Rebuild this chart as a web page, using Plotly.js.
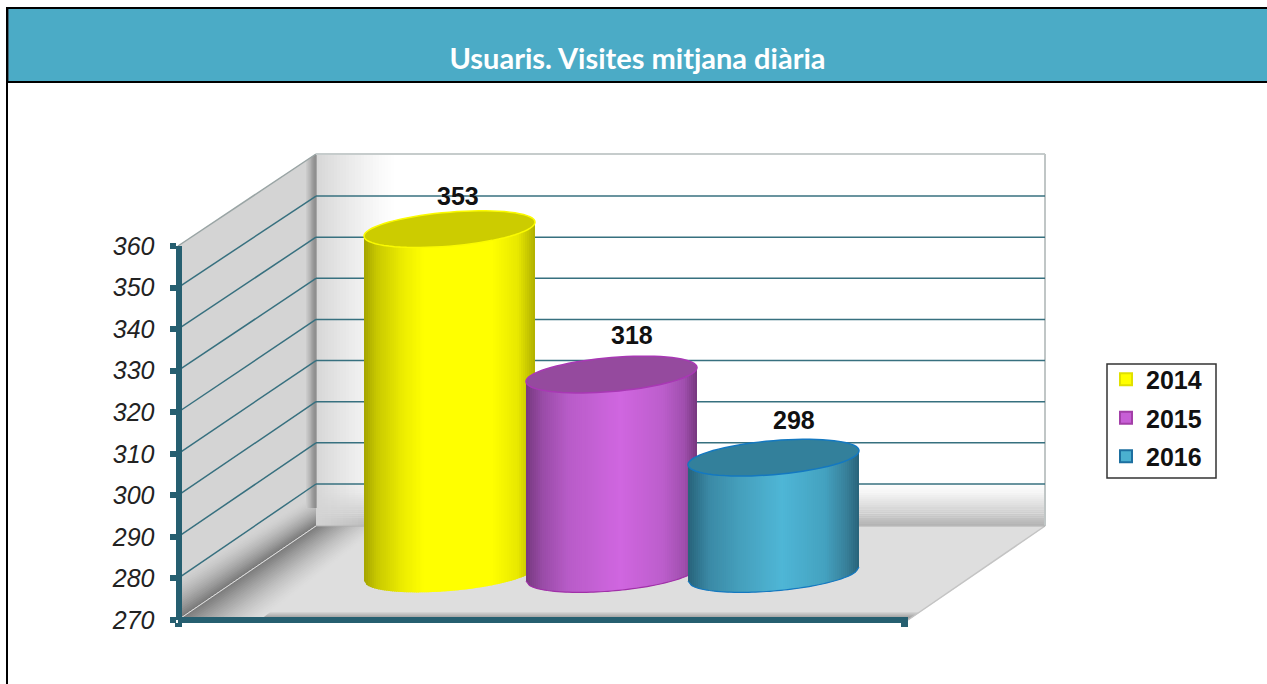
<!DOCTYPE html>
<html>
<head>
<meta charset="utf-8">
<script src="https://cdn.plot.ly/plotly-3.0.1.min.js"></script>
<style>html,body{margin:0;padding:0;background:#fff;overflow:hidden}#c{width:1267px;height:684px}</style>
</head>
<body>
<div id="c"></div>
<script>
// ---- chart data ----
const categories = ['2014', '2015', '2016'];
const values = [353, 318, 298];
const axisTicks = [270, 280, 290, 300, 310, 320, 330, 340, 350, 360];
const gridValues = [280, 290, 300, 310, 320, 330, 340, 350];
const chartTitle = 'Usuaris. Visites mitjana diària';

// ---- styles ----
const seriesColors = ['#ffff00', '#c75fd6', '#4bb0d0'];
const swatchLines = ['#e0e000', '#a33fa8', '#1d6fa0'];
const lidColors = ['#cccc00', '#954a9e', '#33809b'];
const lidLines = ['#fbfb00', '#a838b4', '#1478c0'];
const baseLines = [null, '#a030a8', '#1478c0'];
const sideStops = [
  [[-1, '#a4a400'], [-0.85, '#c8c800'], [-0.55, '#ecec00'], [-0.3, '#ffff00'], [0.5, '#ffff00'], [0.8, '#e8e800'], [1, '#b0b000']],
  [[-1, '#77397f'], [-0.8, '#9a4ca8'], [-0.5, '#b85cc8'], [0.1, '#d066e0'], [0.6, '#bc5ecc'], [0.85, '#a04fae'], [1, '#76387e']],
  [[-1, '#28637a'], [-0.75, '#3b8aa6'], [-0.4, '#459fbc'], [0.1, '#4fb6d6'], [0.6, '#44a2c0'], [0.85, '#38809a'], [1, '#28637a']]
];
const labelDx = [8, 20, 20];
const labelDy = [33, 40, 38];
const axisColor = '#265f70';
const gridColor = '#37707f';

// ---- layout geometry (page pixels) ----
const L = 170, R = 1052, T = 148, B = 630;
const PXU = 4.155, PITCH = 162, X0 = 449.5, DEPTH = 46;
const A = 85.5, TILT = 7, MINOR = 17;
const X = p => (p - X0) / PITCH;
const Y = p => 270 + (620 - p) / PXU;
const paperX = p => (p - L) / (R - L);
const paperY = p => (B - p) / (B - T);

const shapes = [];
function pathOf(pts) { return 'M' + pts.map(q => X(q[0]) + ',' + Y(q[1])).join('L') + 'Z'; }
function poly(pts, fill, line, w) {
  shapes.push({type: 'path', xref: 'x', yref: 'y', layer: 'below', path: pathOf(pts), fillcolor: fill,
    line: {color: line || fill, width: w === undefined ? 0.6 : w}});
}
function seg(x0, y0, x1, y1, color, w) {
  shapes.push({type: 'line', xref: 'x', yref: 'y', layer: 'below', x0: X(x0), y0: Y(y0), x1: X(x1), y1: Y(y1), line: {color: color, width: w}});
}
function pageRect(x0, y0, x1, y1, fill) {
  shapes.push({type: 'rect', xref: 'paper', yref: 'paper', layer: 'below', x0: paperX(x0), x1: paperX(x1), y0: paperY(y0), y1: paperY(y1), fillcolor: fill, line: {width: 0}});
}
function mix(c1, c2, t) {
  const h = c => [1, 3, 5].map(i => parseInt(c.substr(i, 2), 16));
  const a = h(c1), b = h(c2);
  return 'rgb(' + a.map((v, i) => Math.round(v + (b[i] - v) * t)).join(',') + ')';
}
function stopColor(stops, u) {
  for (let i = 0; i < stops.length - 1; i++) {
    if (u <= stops[i + 1][0]) return mix(stops[i][1], stops[i + 1][1], (u - stops[i][0]) / (stops[i + 1][0] - stops[i][0]));
  }
  return stops[stops.length - 1][1];
}

// page frame and header band
pageRect(6, 7, 1267, 684, '#ffffff');
pageRect(8, 9, 1267, 81, '#4babc6');
pageRect(8, 9, 9, 81, '#3b6676');
pageRect(6, 7, 1267, 9, '#000000');
pageRect(6, 7, 8, 684, '#000000');
pageRect(8, 81, 1267, 83, '#000000');

// legend box
shapes.push({type: 'rect', xref: 'paper', yref: 'paper', layer: 'below', x0: paperX(1107), x1: paperX(1216), y0: paperY(364), y1: paperY(478),
  fillcolor: '#ffffff', line: {color: '#333333', width: 1.5}});

// back wall
poly([[316, 154], [1045, 154], [1045, 526], [316, 526]], '#ffffff');
for (let i = 0; i < 20; i++) {
  const y0 = 484 + i * 2.1, c = mix('#ffffff', '#b4b4b4', Math.pow((i + 1) / 20, 1.3));
  poly([[316, y0], [1045, y0], [1045, y0 + 2.3], [316, y0 + 2.3]], c, c, 0);
}
for (let i = 0; i < 26; i++) {
  const x0 = 316 + i * 3, a = 0.92 * Math.pow(1 - i / 26, 1.2);
  const c = 'rgba(212,212,212,' + a.toFixed(3) + ')';
  poly([[x0, 154], [x0 + 3, 154], [x0 + 3, 526], [x0, 526]], c, 'rgba(0,0,0,0)', 0);
}
// left wall
poly([[178, 246], [316, 154], [316, 526], [178, 620]], '#d4d4d4');
for (let i = 0; i < 20; i++) {
  const h = 44 - i * 2.2, c = mix('#d4d4d4', '#7a7a7a', Math.pow((i + 1) / 20, 1.5));
  poly([[178, 620 - h], [316, 526 - h * 0.7], [316, 526], [178, 620]], c, c, 0);
}
for (let i = 0; i < 9; i++) {
  const x0 = 306 + i * 1.15, t = (x0 - 178) * 92 / 138, c = mix('#d4d4d4', '#868686', (i + 1) / 9);
  const x1 = x0 + 1.4, t1 = (x1 - 178) * 92 / 138;
  poly([[x0, 246 - t], [x1, 246 - t1], [x1, 508], [x0, 508]], c, c, 0);
}
// floor
poly([[178, 620], [316, 526], [1045, 526], [908, 620]], '#dedede');
for (let i = 0; i < 5; i++) {
  const c = mix('#dedede', '#a4a4a4', (i + 1) / 5), y = 612 + i * 1.1;
  poly([[262, y], [908 + (620 - y) * 1.46, y], [908, 620], [262, 620]], c, c, 0);
}
for (let i = 0; i < 24; i++) {
  const d = 82 - i * 3.4, c = mix('#dedede', '#7e7e7e', Math.pow((i + 1) / 24, 1.4));
  poly([[178, 620], [178 + d, 620], [316 + d * 0.8, 526], [316, 526]], c, c, 0);
}
// wall edges
seg(178, 620, 316, 526, '#e2e2e2', 1);
seg(178, 246, 316, 154, '#9aa5a5', 1.5);
seg(316, 154, 1045, 154, '#c6cccc', 2);
seg(1045, 154, 1045, 526, '#c0c6c6', 2);
seg(908, 620, 1045, 526, '#c4c4c4', 1.5);
seg(316, 526, 1045, 526, '#aeaeae', 1);
// gridlines, read through the value scale
gridValues.forEach(v => {
  const py = 620 - (v - 270) * PXU;
  const back = 484 - (v - 280) * 4.114;
  seg(178, py, 316, back, gridColor, 1.5);
  seg(316, back, 1045, back, gridColor, 1.5);
});

// cylinders: drawn from each value on the bar's own y axis (yaxis3)
const bx = (i, u) => i + u * A / PITCH;
const by = (v, off) => v - off / PXU;
function cylShape(path, fill, line, w) {
  shapes.push({type: 'path', xref: 'x', yref: 'y3', layer: 'above', path: path, fillcolor: fill, line: {color: line, width: w}});
}
categories.forEach((c, i) => {
  const v = values[i], base = 270, N = 86;
  const low = u => -TILT * u + MINOR * Math.sqrt(Math.max(0, 1 - u * u));
  const mid = u => -TILT * u;
  for (let k = 0; k < N; k++) {
    const u0 = -1 + 2 * k / N, u1 = Math.min(1, -1 + 2 * (k + 1.6) / N), col = stopColor(sideStops[i], u0 + 1 / N);
    const p = 'M' + bx(i, u0) + ',' + by(v, mid(u0)) + 'L' + bx(i, u1) + ',' + by(v, mid(u1)) +
      'L' + bx(i, u1) + ',' + by(base, low(u1)) + 'L' + bx(i, u0) + ',' + by(base, low(u0)) + 'Z';
    cylShape(p, col, 'rgba(0,0,0,0)', 0);
  }
  if (baseLines[i]) {
    let p = '';
    for (let k = 0; k <= 48; k++) {
      const u = -1 + 2 * k / 48;
      p += (k ? 'L' : 'M') + bx(i, u) + ',' + by(base, low(u));
    }
    cylShape(p, 'rgba(0,0,0,0)', baseLines[i], 1.2);
  }
  let lid = '';
  for (let k = 0; k < 72; k++) {
    const t = 2 * Math.PI * k / 72;
    lid += (k ? 'L' : 'M') + bx(i, Math.cos(t)) + ',' + by(v, -TILT * Math.cos(t) + MINOR * Math.sin(t));
  }
  cylShape(lid + 'Z', lidColors[i], lidLines[i], 1.5);
});

// ---- traces ----
const traces = categories.map((c, i) => ({
  type: 'bar', name: c, legendgroup: c, x: [i], y: [values[i] - 270], base: [270], width: [0.95],
  xaxis: 'x', yaxis: 'y3', hoverinfo: 'skip',
  marker: {color: seriesColors[i], line: {color: swatchLines[i], width: 2}}
}));
traces.push({type: 'scatter', mode: 'none', x: [0], y: [270], xaxis: 'x2', yaxis: 'y2', showlegend: false, hoverinfo: 'skip'});

const labelFont = {family: '"Liberation Sans", Arial, sans-serif', size: 25, color: '#111111', weight: 'bold'};
const annotations = categories.map((c, i) => ({
  xref: 'x', yref: 'y3', x: i, y: values[i], text: String(values[i]), showarrow: false,
  xshift: labelDx[i], yshift: labelDy[i], font: labelFont
}));

const hidden = {visible: false, fixedrange: true};
const layout = {
  width: 1267, height: 684, autosize: false, showlegend: true,
  margin: {l: L, r: 1267 - R, t: T, b: 684 - B, pad: 0, autoexpand: false},
  paper_bgcolor: '#ffffff', plot_bgcolor: 'rgba(0,0,0,0)',
  barmode: 'overlay',
  title: {text: chartTitle, xref: 'container', yref: 'container', x: 637.5 / 1267, y: 1 - 59 / 684,
    xanchor: 'center', yanchor: 'middle', font: {family: 'Lato, "Open Sans", sans-serif', size: 29, color: '#ffffff', weight: 'bold'}},
  xaxis: Object.assign({type: 'linear', range: [X(L), X(R)]}, hidden),
  yaxis: Object.assign({type: 'linear', range: [Y(B), Y(T)]}, hidden),
  yaxis3: Object.assign({type: 'linear', overlaying: 'y', range: [Y(B) - DEPTH / PXU, Y(T) - DEPTH / PXU]}, hidden),
  yaxis2: {
    type: 'linear', anchor: 'free', position: paperX(178.5), side: 'left',
    domain: [paperY(620), paperY(246)], range: [270, 360], tickmode: 'array', tickvals: axisTicks, ticktext: axisTicks.map(String),
    showgrid: false, zeroline: false, showline: true, linecolor: axisColor, linewidth: 6,
    ticks: 'outside', ticklen: 6, tickwidth: 6, tickcolor: axisColor, ticklabelstandoff: 10, fixedrange: true,
    tickfont: {family: '"Liberation Sans", Arial, sans-serif', size: 25, color: '#222222', style: 'italic'}
  },
  xaxis2: {
    type: 'linear', anchor: 'free', position: paperY(620), side: 'bottom',
    domain: [paperX(178), paperX(908)], range: [178, 908], tickmode: 'array', tickvals: [178.5, 904], showticklabels: false,
    showgrid: false, zeroline: false, showline: true, linecolor: axisColor, linewidth: 6,
    ticks: 'outside', ticklen: 4, tickwidth: 7, tickcolor: axisColor, fixedrange: true
  },
  legend: {
    x: paperX(1106), y: paperY(356.5), xanchor: 'left', yanchor: 'top', xref: 'paper', yref: 'paper',
    bgcolor: 'rgba(0,0,0,0)', borderwidth: 0, tracegroupgap: 3, itemclick: false, itemdoubleclick: false,
    entrywidth: 68, entrywidthmode: 'pixels',
    font: {family: '"Liberation Sans", Arial, sans-serif', size: 25, color: '#111111', weight: 'bold'}
  },
  shapes: shapes, annotations: annotations
};
Plotly.newPlot('c', traces, layout, {displayModeBar: false, staticPlot: true});
</script>
</body>
</html>
